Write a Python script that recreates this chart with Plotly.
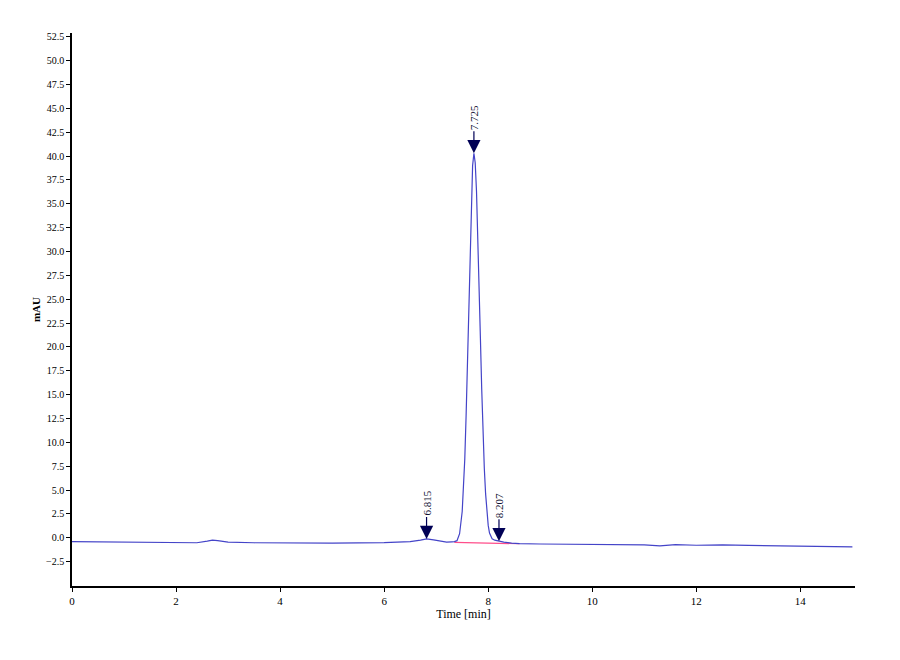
import plotly.graph_objects as go

# chromatogram trace (time in min, signal in mAU)
time_min = [0.0, 0.5, 1.0, 1.5, 2.0, 2.4, 2.6, 2.7, 2.8, 3.0, 3.5, 4.0, 5.0, 6.0,
            6.5, 6.7, 6.815, 6.95, 7.1, 7.2, 7.3, 7.35, 7.4, 7.45, 7.5, 7.525,
            7.55, 7.575, 7.6, 7.625, 7.65, 7.675, 7.7, 7.725, 7.75, 7.775, 7.8,
            7.825, 7.85, 7.875, 7.9, 7.925, 7.95, 7.975, 8.0, 8.025, 8.075,
            8.125, 8.207, 8.3, 8.45, 8.6, 9.0, 10.0, 11.0, 11.3, 11.6, 12.0,
            12.5, 13.0, 14.0, 14.5, 14.6, 15.0]
signal_mau = [-0.40, -0.42, -0.45, -0.48, -0.50, -0.52, -0.35, -0.25, -0.30, -0.45,
              -0.52, -0.55, -0.55, -0.50, -0.40, -0.25, -0.12, -0.22, -0.40, -0.45,
              -0.42, -0.40, -0.30, 0.43, 2.75, 5.0, 8.3, 12.8, 18.2, 24.3, 30.3,
              35.5, 39.0, 40.3, 39.3, 36.3, 31.9, 26.5, 20.9, 15.6, 11.0, 7.3, 4.6,
              2.6, 1.3, 0.5, -0.10, -0.25, -0.35, -0.45, -0.55, -0.60, -0.65, -0.70,
              -0.75, -0.85, -0.72, -0.78, -0.75, -0.80, -0.85, -0.85, -0.92, -0.95]

# integration baseline under the main peak
base_t = [7.35, 8.6]
base_y = [-0.48, -0.62]

# peak labels
peak_t = [6.815, 7.725, 8.207]
peak_y = [-0.12, 40.3, -0.35]
peak_lbl = ["6.815", "7.725", "8.207"]

y_ticks = [-2.5 + 2.5 * i for i in range(23)]
x_ticks = [0, 2, 4, 6, 8, 10, 12, 14]

SERIF = "Liberation Serif, Times New Roman, serif"
NAVY = "#000055"

fig = go.Figure()
fig.add_trace(go.Scatter(x=base_t, y=base_y, mode="lines",
                         line=dict(color="#ff4d8a", width=1.2), showlegend=False))
fig.add_trace(go.Scatter(x=time_min, y=signal_mau, mode="lines",
                         line=dict(color="#4444c8", width=1.2), showlegend=False))

for t, y, lbl in zip(peak_t, peak_y, peak_lbl):
    fig.add_annotation(x=t, y=y, text=lbl, textangle=-90, showarrow=True,
                       ax=0, ay=-36, arrowhead=2, arrowsize=2.2, arrowwidth=1.2,
                       arrowcolor=NAVY, font=dict(family=SERIF, size=11, color="#111133"))

# page body adds 8px, so margins are set 8px smaller on the left/top
fig.update_layout(
    width=900, height=660,
    margin=dict(l=64, r=53, t=25, b=82),
    paper_bgcolor="white", plot_bgcolor="white",
    font=dict(family=SERIF, size=10, color="black"),
    xaxis=dict(range=[0, 15.05], tickvals=x_ticks, showgrid=False, zeroline=False,
               showline=True, linecolor="black", linewidth=1.5, ticks="outside",
               ticklen=4, tickcolor="black", automargin=False,
               tickfont=dict(family=SERIF, size=11),
               title=dict(text="Time [min]", font=dict(family=SERIF, size=12), standoff=4)),
    yaxis=dict(range=[-5.05, 52.9], tickvals=y_ticks, tickformat=".1f", showgrid=False,
               zeroline=False, showline=True, linecolor="black", linewidth=1.5,
               ticks="outside", ticklen=4, tickcolor="black", automargin=False,
               title=dict(text="<b>mAU</b>", font=dict(family=SERIF, size=11), standoff=3)),
)

fig.write_html("out.html")
